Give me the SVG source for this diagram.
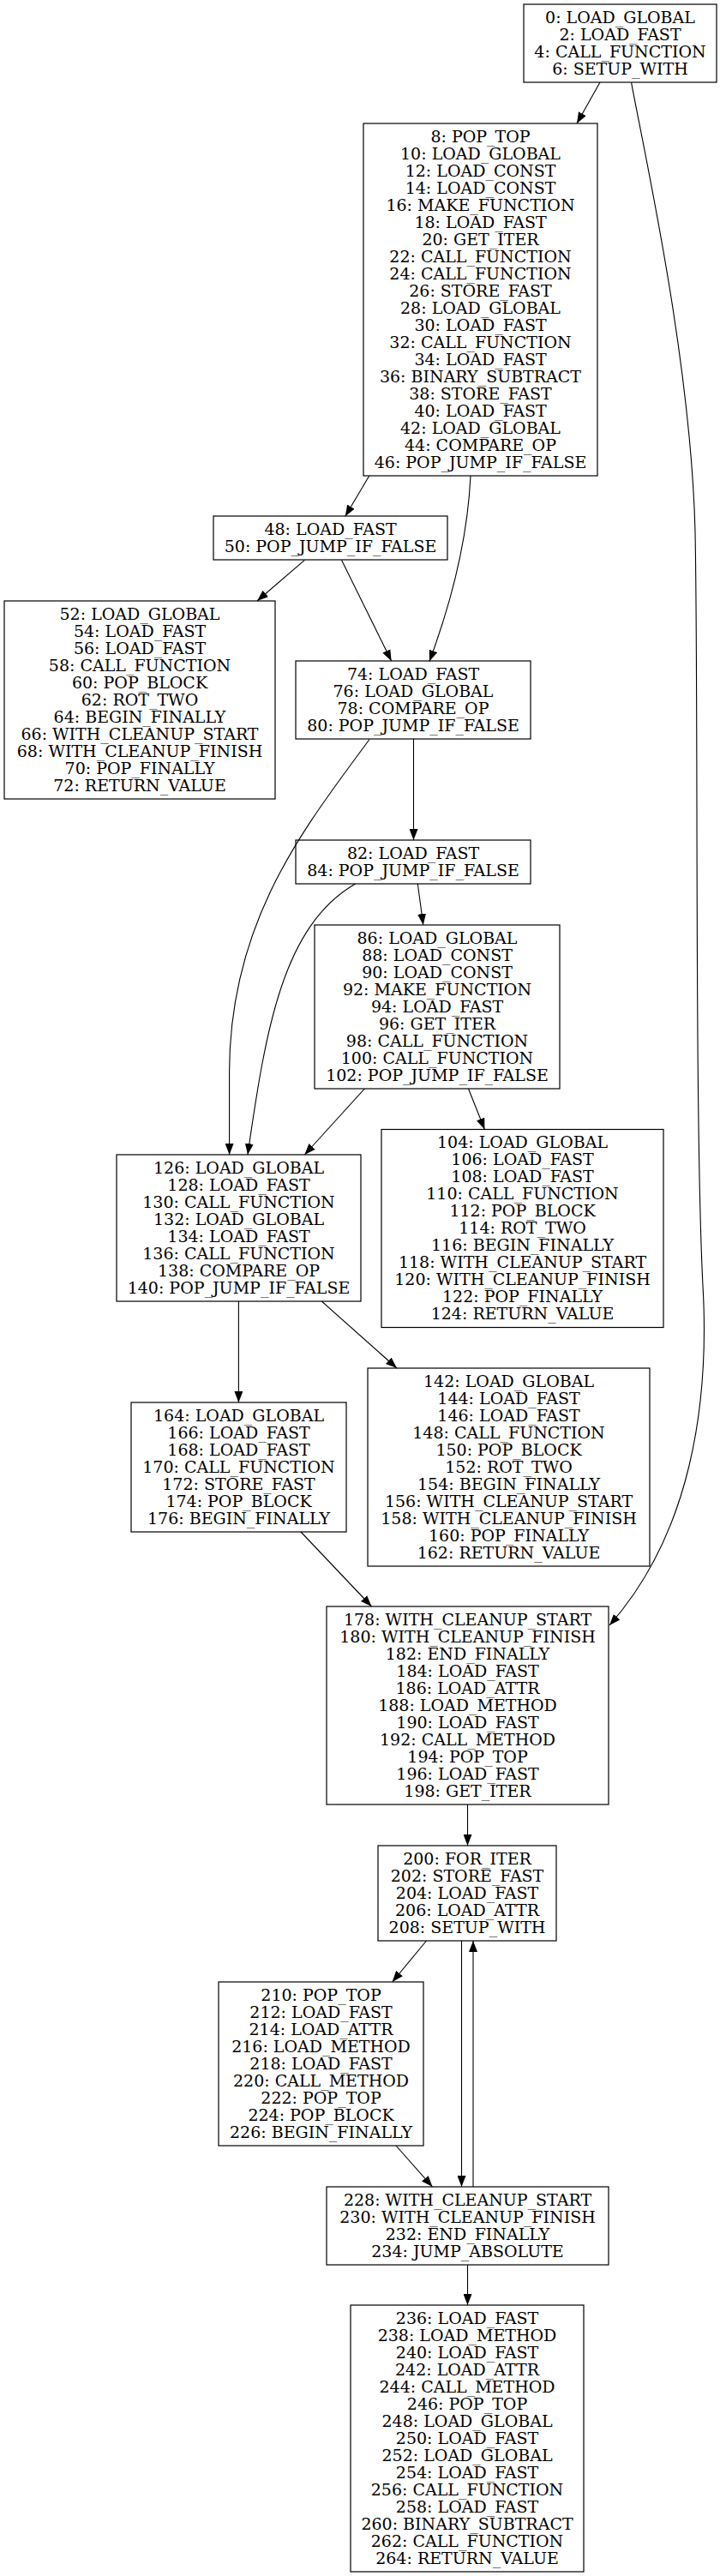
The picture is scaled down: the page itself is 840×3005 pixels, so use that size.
<svg xmlns="http://www.w3.org/2000/svg" width="840" height="3005" viewBox="0 0 840 3005">
<defs>
<style>
.node rect{fill:none;stroke:#000;stroke-width:1.2}
.node text{font-family:"DejaVu Serif",serif;font-size:19px;fill:#000;text-anchor:middle}
.edges path{fill:none;stroke:#000;stroke-width:1.1}
</style>
<marker id="ah" markerWidth="13" markerHeight="10" refX="13" refY="5" orient="auto" markerUnits="userSpaceOnUse"><path d="M0,0 L13,5 L0,10 z" fill="#000"/></marker>
</defs>
<rect x="0" y="0" width="840" height="3005" fill="#fff"/>
<g class="edges" marker-end="url(#ah)">
<path marker-end="url(#ah)" d="M700,96 L673,144"/>
<path marker-end="url(#ah)" d="M736.6,96.3 C752,180 806,420 811,620 C815,820 810,1300 820,1500 C828,1640 805,1790 711,1896"/>
<path marker-end="url(#ah)" d="M430.8,555 L402.8,602.3"/>
<path marker-end="url(#ah)" d="M549,555 C545,640 522,715 501,771.5"/>
<path marker-end="url(#ah)" d="M355.4,653.3 L300,701"/>
<path marker-end="url(#ah)" d="M398.5,653.3 L456.6,771"/>
<path marker-end="url(#ah)" d="M482.5,862 L482.5,980"/>
<path marker-end="url(#ah)" d="M430.8,862.7 C360,960 268,1070 267.6,1250 L267.6,1347"/>
<path marker-end="url(#ah)" d="M487.3,1031 L493.8,1079"/>
<path marker-end="url(#ah)" d="M414.6,1031 C330,1080 310,1200 289,1347"/>
<path marker-end="url(#ah)" d="M425.4,1270 L355.4,1347"/>
<path marker-end="url(#ah)" d="M546.5,1270 L565.4,1317.5"/>
<path marker-end="url(#ah)" d="M278.4,1518 L278.4,1636"/>
<path marker-end="url(#ah)" d="M375.3,1518 L463,1596"/>
<path marker-end="url(#ah)" d="M351,1787 L433.5,1874"/>
<path marker-end="url(#ah)" d="M545.5,2105 L545.5,2153"/>
<path marker-end="url(#ah)" d="M497.5,2264 L457.7,2312"/>
<path marker-end="url(#ah)" d="M538.5,2264 L538.5,2551"/>
<path marker-end="url(#ah)" d="M552,2551 L552,2264"/>
<path marker-end="url(#ah)" d="M462,2503 L504.5,2551"/>
<path marker-end="url(#ah)" d="M545.5,2642 L545.5,2689"/>
</g>
<g id="n0" class="node"><rect x="611" y="5" width="225" height="91"/><text y="26.5"><tspan x="723.5">0: LOAD_GLOBAL</tspan><tspan x="723.5" dy="20">2: LOAD_FAST</tspan><tspan x="723.5" dy="20">4: CALL_FUNCTION</tspan><tspan x="723.5" dy="20">6: SETUP_WITH</tspan></text></g>
<g id="n8" class="node"><rect x="424" y="144" width="273" height="411"/><text y="165.5"><tspan x="560.5">8: POP_TOP</tspan><tspan x="560.5" dy="20">10: LOAD_GLOBAL</tspan><tspan x="560.5" dy="20">12: LOAD_CONST</tspan><tspan x="560.5" dy="20">14: LOAD_CONST</tspan><tspan x="560.5" dy="20">16: MAKE_FUNCTION</tspan><tspan x="560.5" dy="20">18: LOAD_FAST</tspan><tspan x="560.5" dy="20">20: GET_ITER</tspan><tspan x="560.5" dy="20">22: CALL_FUNCTION</tspan><tspan x="560.5" dy="20">24: CALL_FUNCTION</tspan><tspan x="560.5" dy="20">26: STORE_FAST</tspan><tspan x="560.5" dy="20">28: LOAD_GLOBAL</tspan><tspan x="560.5" dy="20">30: LOAD_FAST</tspan><tspan x="560.5" dy="20">32: CALL_FUNCTION</tspan><tspan x="560.5" dy="20">34: LOAD_FAST</tspan><tspan x="560.5" dy="20">36: BINARY_SUBTRACT</tspan><tspan x="560.5" dy="20">38: STORE_FAST</tspan><tspan x="560.5" dy="20">40: LOAD_FAST</tspan><tspan x="560.5" dy="20">42: LOAD_GLOBAL</tspan><tspan x="560.5" dy="20">44: COMPARE_OP</tspan><tspan x="560.5" dy="20">46: POP_JUMP_IF_FALSE</tspan></text></g>
<g id="n48" class="node"><rect x="249" y="602" width="273" height="51"/><text y="623.5"><tspan x="385.5">48: LOAD_FAST</tspan><tspan x="385.5" dy="20">50: POP_JUMP_IF_FALSE</tspan></text></g>
<g id="n52" class="node"><rect x="5" y="701" width="316" height="231"/><text y="722.5"><tspan x="163">52: LOAD_GLOBAL</tspan><tspan x="163" dy="20">54: LOAD_FAST</tspan><tspan x="163" dy="20">56: LOAD_FAST</tspan><tspan x="163" dy="20">58: CALL_FUNCTION</tspan><tspan x="163" dy="20">60: POP_BLOCK</tspan><tspan x="163" dy="20">62: ROT_TWO</tspan><tspan x="163" dy="20">64: BEGIN_FINALLY</tspan><tspan x="163" dy="20">66: WITH_CLEANUP_START</tspan><tspan x="163" dy="20">68: WITH_CLEANUP_FINISH</tspan><tspan x="163" dy="20">70: POP_FINALLY</tspan><tspan x="163" dy="20">72: RETURN_VALUE</tspan></text></g>
<g id="n74" class="node"><rect x="345" y="771" width="274" height="91"/><text y="792.5"><tspan x="482">74: LOAD_FAST</tspan><tspan x="482" dy="20">76: LOAD_GLOBAL</tspan><tspan x="482" dy="20">78: COMPARE_OP</tspan><tspan x="482" dy="20">80: POP_JUMP_IF_FALSE</tspan></text></g>
<g id="n82" class="node"><rect x="345" y="980" width="274" height="51"/><text y="1001.5"><tspan x="482">82: LOAD_FAST</tspan><tspan x="482" dy="20">84: POP_JUMP_IF_FALSE</tspan></text></g>
<g id="n86" class="node"><rect x="367" y="1079" width="286" height="191"/><text y="1100.5"><tspan x="510">86: LOAD_GLOBAL</tspan><tspan x="510" dy="20">88: LOAD_CONST</tspan><tspan x="510" dy="20">90: LOAD_CONST</tspan><tspan x="510" dy="20">92: MAKE_FUNCTION</tspan><tspan x="510" dy="20">94: LOAD_FAST</tspan><tspan x="510" dy="20">96: GET_ITER</tspan><tspan x="510" dy="20">98: CALL_FUNCTION</tspan><tspan x="510" dy="20">100: CALL_FUNCTION</tspan><tspan x="510" dy="20">102: POP_JUMP_IF_FALSE</tspan></text></g>
<g id="n104" class="node"><rect x="445" y="1317.5" width="329" height="231"/><text y="1339"><tspan x="609.5">104: LOAD_GLOBAL</tspan><tspan x="609.5" dy="20">106: LOAD_FAST</tspan><tspan x="609.5" dy="20">108: LOAD_FAST</tspan><tspan x="609.5" dy="20">110: CALL_FUNCTION</tspan><tspan x="609.5" dy="20">112: POP_BLOCK</tspan><tspan x="609.5" dy="20">114: ROT_TWO</tspan><tspan x="609.5" dy="20">116: BEGIN_FINALLY</tspan><tspan x="609.5" dy="20">118: WITH_CLEANUP_START</tspan><tspan x="609.5" dy="20">120: WITH_CLEANUP_FINISH</tspan><tspan x="609.5" dy="20">122: POP_FINALLY</tspan><tspan x="609.5" dy="20">124: RETURN_VALUE</tspan></text></g>
<g id="n126" class="node"><rect x="136" y="1347" width="285" height="171"/><text y="1368.5"><tspan x="278.5">126: LOAD_GLOBAL</tspan><tspan x="278.5" dy="20">128: LOAD_FAST</tspan><tspan x="278.5" dy="20">130: CALL_FUNCTION</tspan><tspan x="278.5" dy="20">132: LOAD_GLOBAL</tspan><tspan x="278.5" dy="20">134: LOAD_FAST</tspan><tspan x="278.5" dy="20">136: CALL_FUNCTION</tspan><tspan x="278.5" dy="20">138: COMPARE_OP</tspan><tspan x="278.5" dy="20">140: POP_JUMP_IF_FALSE</tspan></text></g>
<g id="n142" class="node"><rect x="429" y="1596" width="329" height="231"/><text y="1617.5"><tspan x="593.5">142: LOAD_GLOBAL</tspan><tspan x="593.5" dy="20">144: LOAD_FAST</tspan><tspan x="593.5" dy="20">146: LOAD_FAST</tspan><tspan x="593.5" dy="20">148: CALL_FUNCTION</tspan><tspan x="593.5" dy="20">150: POP_BLOCK</tspan><tspan x="593.5" dy="20">152: ROT_TWO</tspan><tspan x="593.5" dy="20">154: BEGIN_FINALLY</tspan><tspan x="593.5" dy="20">156: WITH_CLEANUP_START</tspan><tspan x="593.5" dy="20">158: WITH_CLEANUP_FINISH</tspan><tspan x="593.5" dy="20">160: POP_FINALLY</tspan><tspan x="593.5" dy="20">162: RETURN_VALUE</tspan></text></g>
<g id="n164" class="node"><rect x="153" y="1636" width="251" height="151"/><text y="1657.5"><tspan x="278.5">164: LOAD_GLOBAL</tspan><tspan x="278.5" dy="20">166: LOAD_FAST</tspan><tspan x="278.5" dy="20">168: LOAD_FAST</tspan><tspan x="278.5" dy="20">170: CALL_FUNCTION</tspan><tspan x="278.5" dy="20">172: STORE_FAST</tspan><tspan x="278.5" dy="20">174: POP_BLOCK</tspan><tspan x="278.5" dy="20">176: BEGIN_FINALLY</tspan></text></g>
<g id="n178" class="node"><rect x="381" y="1874" width="329" height="231"/><text y="1895.5"><tspan x="545.5">178: WITH_CLEANUP_START</tspan><tspan x="545.5" dy="20">180: WITH_CLEANUP_FINISH</tspan><tspan x="545.5" dy="20">182: END_FINALLY</tspan><tspan x="545.5" dy="20">184: LOAD_FAST</tspan><tspan x="545.5" dy="20">186: LOAD_ATTR</tspan><tspan x="545.5" dy="20">188: LOAD_METHOD</tspan><tspan x="545.5" dy="20">190: LOAD_FAST</tspan><tspan x="545.5" dy="20">192: CALL_METHOD</tspan><tspan x="545.5" dy="20">194: POP_TOP</tspan><tspan x="545.5" dy="20">196: LOAD_FAST</tspan><tspan x="545.5" dy="20">198: GET_ITER</tspan></text></g>
<g id="n200" class="node"><rect x="441" y="2153" width="208" height="111"/><text y="2174.5"><tspan x="545">200: FOR_ITER</tspan><tspan x="545" dy="20">202: STORE_FAST</tspan><tspan x="545" dy="20">204: LOAD_FAST</tspan><tspan x="545" dy="20">206: LOAD_ATTR</tspan><tspan x="545" dy="20">208: SETUP_WITH</tspan></text></g>
<g id="n210" class="node"><rect x="255" y="2312" width="239" height="191"/><text y="2333.5"><tspan x="374.5">210: POP_TOP</tspan><tspan x="374.5" dy="20">212: LOAD_FAST</tspan><tspan x="374.5" dy="20">214: LOAD_ATTR</tspan><tspan x="374.5" dy="20">216: LOAD_METHOD</tspan><tspan x="374.5" dy="20">218: LOAD_FAST</tspan><tspan x="374.5" dy="20">220: CALL_METHOD</tspan><tspan x="374.5" dy="20">222: POP_TOP</tspan><tspan x="374.5" dy="20">224: POP_BLOCK</tspan><tspan x="374.5" dy="20">226: BEGIN_FINALLY</tspan></text></g>
<g id="n228" class="node"><rect x="381" y="2551" width="329" height="91"/><text y="2572.5"><tspan x="545.5">228: WITH_CLEANUP_START</tspan><tspan x="545.5" dy="20">230: WITH_CLEANUP_FINISH</tspan><tspan x="545.5" dy="20">232: END_FINALLY</tspan><tspan x="545.5" dy="20">234: JUMP_ABSOLUTE</tspan></text></g>
<g id="n236" class="node"><rect x="409" y="2689" width="272" height="311"/><text y="2710.5"><tspan x="545">236: LOAD_FAST</tspan><tspan x="545" dy="20">238: LOAD_METHOD</tspan><tspan x="545" dy="20">240: LOAD_FAST</tspan><tspan x="545" dy="20">242: LOAD_ATTR</tspan><tspan x="545" dy="20">244: CALL_METHOD</tspan><tspan x="545" dy="20">246: POP_TOP</tspan><tspan x="545" dy="20">248: LOAD_GLOBAL</tspan><tspan x="545" dy="20">250: LOAD_FAST</tspan><tspan x="545" dy="20">252: LOAD_GLOBAL</tspan><tspan x="545" dy="20">254: LOAD_FAST</tspan><tspan x="545" dy="20">256: CALL_FUNCTION</tspan><tspan x="545" dy="20">258: LOAD_FAST</tspan><tspan x="545" dy="20">260: BINARY_SUBTRACT</tspan><tspan x="545" dy="20">262: CALL_FUNCTION</tspan><tspan x="545" dy="20">264: RETURN_VALUE</tspan></text></g>
</svg>
